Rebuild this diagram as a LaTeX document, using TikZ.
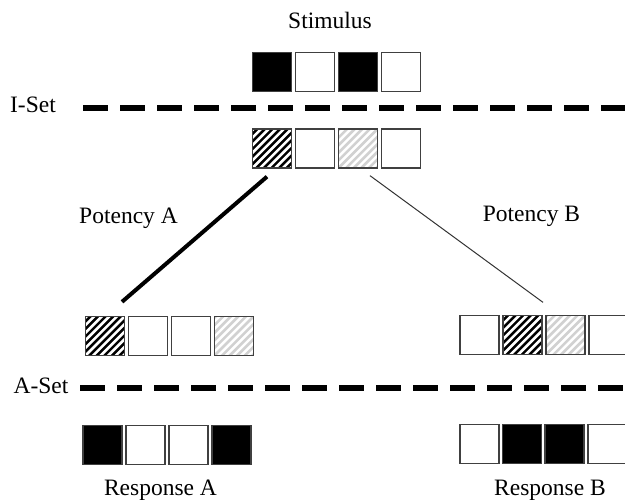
\documentclass[tikz,border=0pt]{standalone}
\usepackage{fontspec}
\setmainfont{Liberation Serif}
\begin{document}
\begin{tikzpicture}[x=1pt,y=-1pt,
  cell/.style={draw=black!75, line width=1.3pt, minimum size=39pt, inner sep=0pt, fill=white},
  solid cell/.style={cell, fill=black},
  dark hatch/.style={cell, fill=black,
    path picture={\foreach \k in {-9,...,9}
      \draw[white, line width=2.6pt]
        ([xshift=\k*7.6pt-30pt, yshift=-30pt]path picture bounding box.center) -- ++(60pt,60pt);}},
  light hatch/.style={cell, fill=white,
    path picture={\foreach \k in {-9,...,9}
      \draw[black!18, line width=2.6pt]
        ([xshift=\k*7.6pt-30pt, yshift=-30pt]path picture bounding box.center) -- ++(60pt,60pt);}},
  setline/.style={line width=5.5pt, dash pattern=on 25pt off 12pt},
  label/.style={anchor=base, inner sep=0pt, font=\fontsize{23.5}{28}\selectfont}
]
\useasboundingbox (0,0) rectangle (625,499);

% stimulus pattern
\node[label] (stim) at (330,28) {Stimulus};
\node[solid cell] (s1) at (272,72) {};
\node[cell]       (s2) at (315,72) {};
\node[solid cell] (s3) at (358,72) {};
\node[cell]       (s4) at (401,72) {};

% input set
\node[label] (iset) at (33,112) {I-Set};
\coordinate (iline0) at (83,108);
\coordinate (iline1) at (640,108);
\draw[setline] (iline0) -- (iline1);

\node[dark hatch]  (i1) at (272,148.5) {};
\node[cell]        (i2) at (315,148.5) {};
\node[light hatch] (i3) at (358,148.5) {};
\node[cell]        (i4) at (401,148.5) {};

% potencies
\node[label] (pota) at (128.5,223) {Potency A};
\node[label] (potb) at (531.5,221) {Potency B};

% left branch
\node[dark hatch]  (l1) at (105,336) {};
\node[cell]        (l2) at (148,336) {};
\node[cell]        (l3) at (191,336) {};
\node[light hatch] (l4) at (234,336) {};

% right branch
\node[cell]        (r1) at (479.5,335) {};
\node[dark hatch]  (r2) at (522.5,335) {};
\node[light hatch] (r3) at (565.5,335) {};
\node[cell]        (r4) at (608.5,335) {};

% connectors from the input set to each branch
\coordinate (ta) at ([xshift=-5pt,yshift=-8pt]i1.south);
\coordinate (ba) at ([xshift=17pt,yshift=14pt]l1.north);
\draw[line width=4pt] (ta) -- (ba);
\coordinate (tb) at ([xshift=12pt,yshift=-7pt]i3.south);
\coordinate (bb) at ([xshift=20.5pt,yshift=12.5pt]r2.north);
\draw[line width=1pt, black!80] (tb) -- (bb);

% action set
\node[label] (aset) at (41,393) {A-Set};
\coordinate (aline0) at (80,388);
\coordinate (aline1) at (640,388);
\draw[setline] (aline0) -- (aline1);

% responses
\node[solid cell] (a1) at (102.5,445) {};
\node[cell]       (a2) at (145.5,445) {};
\node[cell]       (a3) at (188.5,445) {};
\node[solid cell] (a4) at (231.5,445) {};
\node[label] (resa) at (160.5,495) {Response A};

\node[cell]       (b1) at (479.5,444) {};
\node[solid cell] (b2) at (522,444) {};
\node[solid cell] (b3) at (564.5,444) {};
\node[cell]       (b4) at (607.5,444) {};
\node[label] (resb) at (550,495) {Response B};
\end{tikzpicture}
\end{document}
